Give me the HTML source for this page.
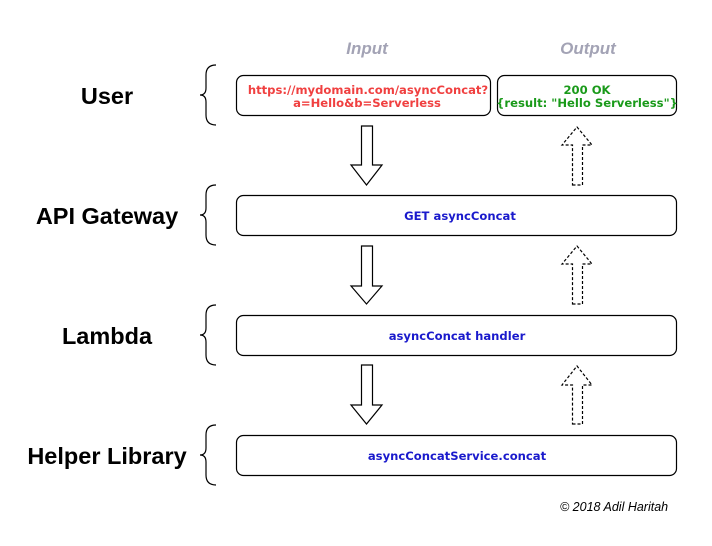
<!DOCTYPE html>
<html><head><style>body{margin:0;background:#fff}</style></head><body>
<svg width="712" height="541" xmlns="http://www.w3.org/2000/svg" font-family="Liberation Sans, sans-serif">
<rect width="712" height="541" fill="#fff"/>
<g font-weight="bold" font-style="italic" font-size="17" fill="#a3a3b5" text-anchor="middle">
<text x="367" y="54">Input</text><text x="588" y="54">Output</text></g>
<g font-weight="bold" font-size="23.5" fill="#000" text-anchor="middle">
<text x="107" y="104">User</text><text x="107" y="224">API Gateway</text>
<text x="107" y="344">Lambda</text><text x="107" y="464">Helper Library</text></g>
<g fill="none" stroke="#000" stroke-width="1.2">
<path d="M216,65 Q206,65 206,75 L206,88 Q206,95 200,95 Q206,95 206,102 L206,115 Q206,125 216,125"/>
<path d="M216,185 Q206,185 206,195 L206,208 Q206,215 200,215 Q206,215 206,222 L206,235 Q206,245 216,245"/>
<path d="M216,305 Q206,305 206,315 L206,328 Q206,335 200,335 Q206,335 206,342 L206,355 Q206,365 216,365"/>
<path d="M216,425 Q206,425 206,435 L206,448 Q206,455 200,455 Q206,455 206,462 L206,475 Q206,485 216,485"/>
<rect x="236.5" y="75.5" width="254" height="40" rx="7"/>
<rect x="497.5" y="75.5" width="179" height="40" rx="7"/>
<rect x="236.5" y="195.5" width="440" height="40" rx="7"/>
<rect x="236.5" y="315.5" width="440" height="40" rx="7"/>
<rect x="236.5" y="435.5" width="440" height="40" rx="7"/>
<path d="M361.5,126 L372.5,126 L372.5,165 L382,165 L366.5,185 L351,165 L361.5,165 Z"/>
<path d="M361.5,246 L372.5,246 L372.5,286 L382,286 L366.5,304 L351,286 L361.5,286 Z"/>
<path d="M361.5,365 L372.5,365 L372.5,405 L382,405 L366.5,424 L351,405 L361.5,405 Z"/>
<g stroke-dasharray="3,2">
<path d="M572.5,185 L582.5,185 L582.5,145 L592,145 L577,127 L562,145 L572.5,145 Z"/>
<path d="M572.5,304 L582.5,304 L582.5,264 L592,264 L577,246 L562,264 L572.5,264 Z"/>
<path d="M572.5,424 L582.5,424 L582.5,385 L592,385 L577,366 L562,385 L572.5,385 Z"/>
</g></g>
<g font-family="DejaVu Sans, sans-serif" font-weight="bold" font-size="11.6" text-anchor="middle">
<text x="368" y="94" fill="#f04040">https://mydomain.com/asyncConcat?</text>
<text x="367" y="107" fill="#f04040">a=Hello&amp;b=Serverless</text>
<text x="587" y="94" fill="#1a9a1a">200 OK</text>
<text x="587" y="107" fill="#1a9a1a">{result: "Hello Serverless"}</text>
<text x="460" y="220" fill="#1a1acc">GET asyncConcat</text>
<text x="457" y="340" fill="#1a1acc">asyncConcat handler</text>
<text x="457" y="460" fill="#1a1acc">asyncConcatService.concat</text>
</g>
<text x="560" y="511" font-size="12.5" font-style="italic" fill="#000">© 2018 Adil Haritah</text>
</svg>
</body></html>
